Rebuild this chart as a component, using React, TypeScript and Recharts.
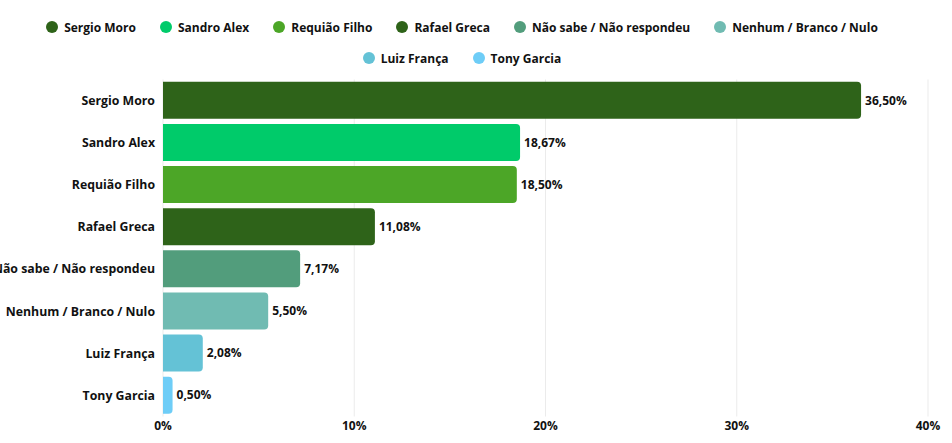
import { Bar, BarChart, CartesianGrid, Cell, LabelList, Legend, XAxis, YAxis } from "recharts";

const candidates = [
  "Sergio Moro",
  "Sandro Alex",
  "Requião Filho",
  "Rafael Greca",
  "Não sabe / Não respondeu",
  "Nenhum / Branco / Nulo",
  "Luiz França",
  "Tony Garcia",
];

const shares = [36.5, 18.67, 18.5, 11.08, 7.17, 5.5, 2.08, 0.5];

const colors = [
  "#2E6319",
  "#00CB6A",
  "#4CA627",
  "#2E6319",
  "#529D7C",
  "#70BBB2",
  "#64C2D6",
  "#6ECDF7",
];

const xTicks = [0, 10, 20, 30, 40];

const data = candidates.map((name, i) => ({ name, value: shares[i] }));

const font = "'Open Sans', sans-serif";
const ink = "#111111";

function pct(v: number) {
  return `${Number(v).toFixed(2).replace(".", ",")}%`;
}

// single-line category tick, the default one wraps long names
function NameTick(props: { x?: number; y?: number; payload?: { value: string } }) {
  const { x, y, payload } = props;
  if (x == null || y == null || !payload) return null;
  return (
    <text
      x={x}
      y={y}
      dy="0.355em"
      textAnchor="end"
      fill={ink}
      fontSize={12.3}
      fontWeight={700}
      fontFamily={font}
    >
      {payload.value}
    </text>
  );
}

function LegendRow() {
  return (
    <div
      style={{
        display: "flex",
        flexWrap: "wrap",
        justifyContent: "center",
        columnGap: 24,
        fontFamily: font,
        fontSize: 12,
        fontWeight: 700,
        color: ink,
      }}
    >
      {candidates.map((name, i) => (
        <div key={name} style={{ display: "flex", alignItems: "center", height: 31 }}>
          <span
            style={{
              width: 12,
              height: 12,
              borderRadius: "50%",
              background: colors[i],
              marginRight: 6,
              display: "inline-block",
            }}
          />
          <span>{name}</span>
        </div>
      ))}
    </div>
  );
}

export default function App() {
  return (
    <div style={{ width: 952, height: 443 }}>
      <style>{`body{margin:0}`}</style>
      <BarChart
        width={952}
        height={443}
        data={data}
        layout="vertical"
        margin={{ top: 79.5, right: 24, bottom: 0, left: 0 }}
        barCategoryGap="5.5%"
      >
        <CartesianGrid horizontal={false} stroke="#EBEBEB" />
        <XAxis
          type="number"
          domain={[0, 40]}
          ticks={xTicks}
          tickFormatter={(v) => `${v}%`}
          axisLine={false}
          tickLine={false}
          tickSize={0}
          tickMargin={5}
          height={26.5}
          tick={{ fill: ink, fontSize: 12, fontWeight: 700, fontFamily: font }}
        />
        <YAxis
          type="category"
          dataKey="name"
          width={163}
          axisLine={false}
          tickLine={false}
          tickSize={6}
          tickMargin={2}
          interval={0}
          tick={<NameTick />}
        />
        <Legend
          layout="horizontal"
          verticalAlign="middle"
          align="center"
          content={() => <LegendRow />}
          wrapperStyle={{ top: 11.5, left: 27, width: 870 }}
        />
        <Bar dataKey="value" radius={[0, 4, 4, 0]} isAnimationActive={false}>
          {data.map((d, i) => (
            <Cell key={d.name} fill={colors[i]} />
          ))}
          <LabelList
            dataKey="value"
            position="right"
            offset={4}
            formatter={(v: any) => pct(v)}
            style={{ fill: ink, fontSize: 12, fontWeight: 700, fontFamily: font }}
          />
        </Bar>
      </BarChart>
    </div>
  );
}
